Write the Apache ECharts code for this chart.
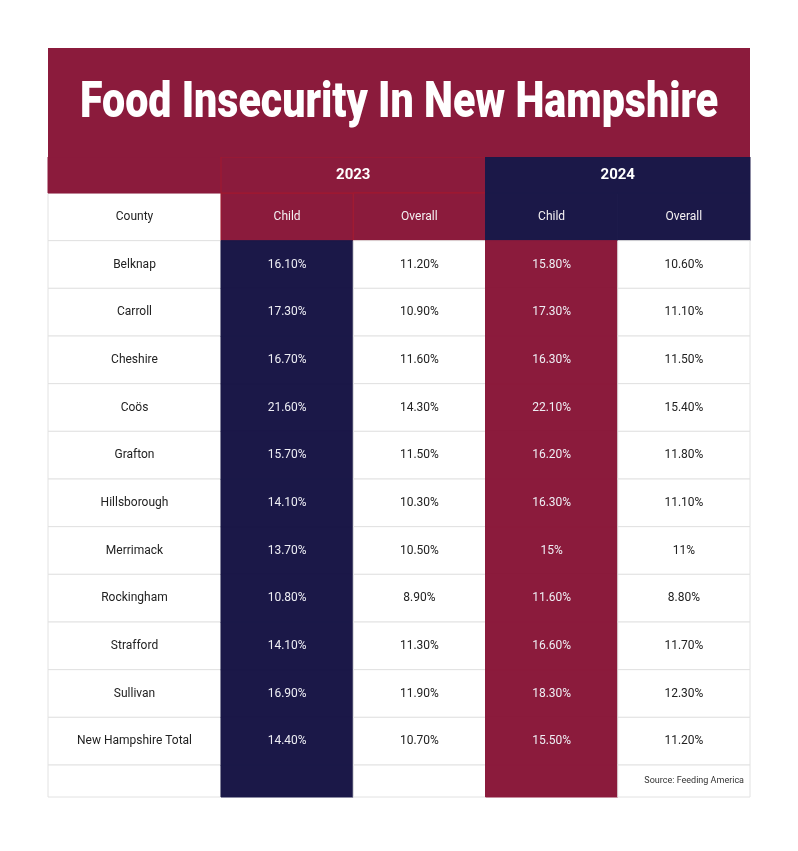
<!DOCTYPE html>
<html>
<head>
<meta charset="utf-8">
<script src="https://cdn.jsdelivr.net/npm/echarts@6/dist/echarts.min.js"></script>
<style>
  html, body { margin: 0; padding: 0; background: #fff; }
  #main { width: 798px; height: 851px; }
</style>
</head>
<body>
<div id="main"></div>
<script>
var counties = ['Belknap', 'Carroll', 'Cheshire', 'Coös', 'Grafton', 'Hillsborough',
  'Merrimack', 'Rockingham', 'Strafford', 'Sullivan', 'New Hampshire Total'];
var years = ['2023', '2024'];
var groups = ['Child', 'Overall'];
var child2023 = [16.1, 17.3, 16.7, 21.6, 15.7, 14.1, 13.7, 10.8, 14.1, 16.9, 14.4];
var overall2023 = [11.2, 10.9, 11.6, 14.3, 11.5, 10.3, 10.5, 8.9, 11.3, 11.9, 10.7];
var child2024 = [15.8, 17.3, 16.3, 22.1, 16.2, 16.3, 15, 11.6, 16.6, 18.3, 15.5];
var overall2024 = [10.6, 11.1, 11.5, 15.4, 11.8, 11.1, 11, 8.8, 11.7, 12.3, 11.2];
var source = 'Source: Feeding America';

var CRIMSON = '#8b1b3c';
var NAVY = '#1b1848';
var LINE = '#e2e2e2';
var HEAD_LINE = '#a3182f';
var YEAR_H = 36;
var FOOT_H = 32;
var FONT = 'Roboto, "Noto Sans", sans-serif';

var chartDom = document.getElementById('main');
var myChart = echarts.init(chartDom);

var columns = [child2023, overall2023, child2024, overall2024];
var rows = ['County'].concat(counties);
var last = rows.length - 1;

function fmt(v) {
  return Number.isInteger(v) ? v + '%' : v.toFixed(2) + '%';
}

// value cells: [col, row, text]
var cells = [];
columns.forEach(function (col, c) {
  cells.push([c, 0, groups[c % 2]]);
  col.forEach(function (v, i) {
    cells.push([c, i + 1, fmt(v)]);
  });
});
var countyCells = rows.map(function (name, r) {
  return [0, r, name];
});

function box(x, y, w, h, fill, stroke, text, color, font) {
  return {
    type: 'rect',
    shape: { x: x, y: y, width: w, height: h },
    style: { fill: fill, stroke: stroke, lineWidth: 1 },
    textContent: text ? {
      style: { text: text, fill: color, font: font || '12px ' + FONT }
    } : undefined,
    textConfig: { position: 'inside' }
  };
}

function renderCell(params, api) {
  var c = api.value(0);
  var r = api.value(1);
  var text = cells[params.dataIndex][2];
  var p = api.coord([c, r]);
  var s = api.size([1, 1]);
  var x = p[0] - s[0] / 2, y = p[1] - s[1] / 2;
  var yearColor = c < 2 ? CRIMSON : NAVY;
  var isChild = c % 2 === 0;
  var children = [];
  if (r === 0) {
    children.push(box(x, y, s[0], s[1], yearColor, c < 2 ? HEAD_LINE : yearColor, text, '#f4f0f2'));
    if (isChild) {
      children.push(box(x, y - YEAR_H, s[0] * 2, YEAR_H, yearColor, c < 2 ? HEAD_LINE : yearColor,
        years[c < 2 ? 0 : 1], '#fff', 'bold 15px ' + FONT));
    }
  } else if (isChild) {
    var fill = c < 2 ? NAVY : CRIMSON;
    children.push(box(x, y, s[0], s[1] + 0.5, fill, fill, text, '#eeeef4'));
  } else {
    children.push(box(x, y, s[0], s[1], '#fff', LINE, text, '#222'));
  }
  if (r === last) {
    if (isChild) {
      var f = c < 2 ? NAVY : CRIMSON;
      children.push(box(x, y + s[1], s[0], FOOT_H, f, f));
    } else {
      children.push(box(x, y + s[1], s[0], FOOT_H, '#fff', LINE));
      if (c === 3) {
        children.push({
          type: 'text',
          style: {
            text: source, x: x + s[0] - 6, y: y + s[1] + FOOT_H / 2,
            align: 'right', verticalAlign: 'middle', fill: '#333', font: '9px ' + FONT
          }
        });
      }
    }
  }
  return { type: 'group', children: children };
}

function renderCounty(params, api) {
  var r = api.value(1);
  var p = api.coord([0, r]);
  var s = api.size([1, 1]);
  var x = p[0] - s[0] / 2, y = p[1] - s[1] / 2;
  var children = [box(x, y, s[0], s[1], '#fff', LINE, rows[r], '#222')];
  if (r === 0) {
    children.push(box(x, y - YEAR_H, s[0], YEAR_H, CRIMSON, CRIMSON));
  }
  if (r === last) {
    children.push(box(x, y + s[1], s[0], FOOT_H, '#fff', LINE));
  }
  return { type: 'group', children: children };
}

var option = {
  backgroundColor: '#fff',
  animation: false,
  graphic: [
    {
      type: 'rect', left: 48, top: 48, z: 10,
      shape: { width: 702, height: 109 },
      style: { fill: CRIMSON }
    },
    {
      type: 'text', x: 399, y: 104, z: 11, scaleX: 0.823,
      style: {
        text: 'Food Insecurity In New Hampshire', fill: '#fff',
        font: '900 50px ' + FONT, align: 'center', verticalAlign: 'middle'
      }
    }
  ],
  grid: [
    { left: 48, width: 173, top: 193, bottom: 86 },
    { left: 221, right: 48, top: 193, bottom: 86 }
  ],
  xAxis: [
    { type: 'category', gridIndex: 0, data: ['County'], show: false },
    { type: 'category', gridIndex: 1, data: ['c2023', 'o2023', 'c2024', 'o2024'], show: false }
  ],
  yAxis: [
    { type: 'category', gridIndex: 0, data: rows, inverse: true, show: false },
    { type: 'category', gridIndex: 1, data: rows, inverse: true, show: false }
  ],
  series: [
    {
      type: 'custom', xAxisIndex: 0, yAxisIndex: 0,
      renderItem: renderCounty, data: countyCells
    },
    {
      type: 'custom', xAxisIndex: 1, yAxisIndex: 1,
      renderItem: renderCell, data: cells.map(function (d) { return [d[0], d[1]]; })
    }
  ]
};

myChart.setOption(option);
</script>
</body>
</html>
